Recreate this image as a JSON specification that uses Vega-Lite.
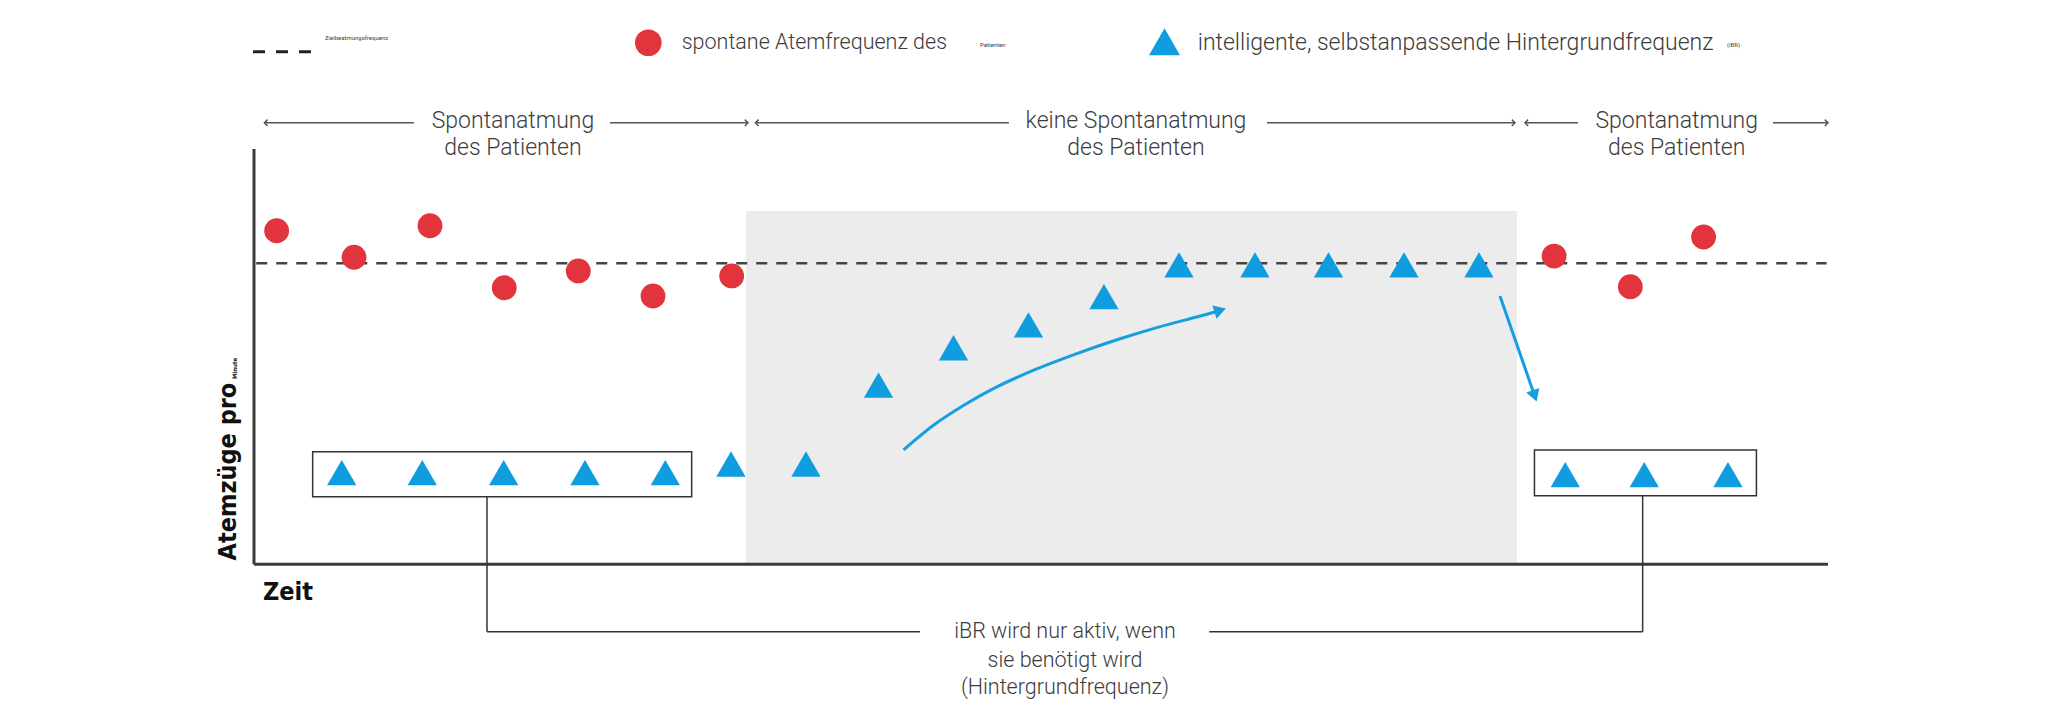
{
  "$schema": "https://vega.github.io/schema/vega-lite/v6.json",
  "width": 2048,
  "height": 723,
  "autosize": {"type": "fit", "contains": "padding"},
  "padding": 0,
  "background": "white",
  "view": {"stroke": null},
  "datasets": {
    "shade": [{"t": 6.517, "t2": 16.728, "v": 17.6, "v2": 0}],
    "target": [{"t": 0.03, "t2": 20.83, "v": 15, "v2": 15}],
    "axes": [
      {"t": 0, "t2": 0, "v": 20.7, "v2": 0},
      {"t": 0, "t2": 20.848, "v": 0, "v2": 0}
    ],
    "boxes": [
      {"t": 0.777, "t2": 5.797, "v": 5.61, "v2": 3.37},
      {"t": 16.96, "t2": 19.9, "v": 5.7, "v2": 3.42}
    ],
    "connectors": [
      {"t": 3.086, "t2": 3.086, "v": 3.37, "v2": -3.36},
      {"t": 3.086, "t2": 8.821, "v": -3.36, "v2": -3.36},
      {"t": 12.653, "t2": 18.393, "v": -3.36, "v2": -3.36},
      {"t": 18.393, "t2": 18.393, "v": 3.42, "v2": -3.36}
    ],
    "phaseLines": [
      {"t": 0.138, "t2": 2.117, "v": 22.0, "v2": 22.0},
      {"t": 4.715, "t2": 6.543, "v": 22.0, "v2": 22.0},
      {"t": 6.642, "t2": 9.999, "v": 22.0, "v2": 22.0},
      {"t": 13.417, "t2": 16.702, "v": 22.0, "v2": 22.0},
      {"t": 16.834, "t2": 17.536, "v": 22.0, "v2": 22.0},
      {"t": 20.119, "t2": 20.848, "v": 22.0, "v2": 22.0}
    ],
    "phaseHeads": [
      {"t": 0.138, "v": 22.0, "side": "left"},
      {"t": 6.543, "v": 22.0, "side": "right"},
      {"t": 6.642, "v": 22.0, "side": "left"},
      {"t": 16.702, "v": 22.0, "side": "right"},
      {"t": 16.834, "v": 22.0, "side": "left"},
      {"t": 20.848, "v": 22.0, "side": "right"}
    ],
    "curve": [
      {"t": 8.603, "v": 5.7},
      {"t": 9.008, "v": 6.95},
      {"t": 9.413, "v": 7.95},
      {"t": 9.819, "v": 8.8},
      {"t": 10.359, "v": 9.72},
      {"t": 10.899, "v": 10.5},
      {"t": 11.441, "v": 11.2},
      {"t": 11.981, "v": 11.82},
      {"t": 12.522, "v": 12.36},
      {"t": 12.78, "v": 12.62}
    ],
    "drop": [{"t": 16.503, "t2": 16.963, "v": 13.37, "v2": 8.39}],
    "headCurve": [{"t": 12.797, "v": 12.66}],
    "headDrop": [{"t": 16.963, "v": 8.39}],
    "spontaneous": [
      {"t": 0.3, "v": 16.62},
      {"t": 1.325, "v": 15.3},
      {"t": 2.331, "v": 16.87},
      {"t": 3.315, "v": 13.78},
      {"t": 4.295, "v": 14.62},
      {"t": 5.285, "v": 13.37},
      {"t": 6.327, "v": 14.37},
      {"t": 17.22, "v": 15.36},
      {"t": 18.23, "v": 13.83},
      {"t": 19.2, "v": 16.31}
    ],
    "ibr": [
      {"t": 1.162, "v": 4.57},
      {"t": 2.229, "v": 4.57},
      {"t": 3.307, "v": 4.57},
      {"t": 4.384, "v": 4.57},
      {"t": 5.448, "v": 4.57},
      {"t": 6.318, "v": 5.0},
      {"t": 7.311, "v": 5.0},
      {"t": 8.272, "v": 8.93},
      {"t": 9.265, "v": 10.79},
      {"t": 10.258, "v": 11.93},
      {"t": 11.258, "v": 13.34},
      {"t": 12.252, "v": 14.92},
      {"t": 13.258, "v": 14.92},
      {"t": 14.232, "v": 14.92},
      {"t": 15.232, "v": 14.92},
      {"t": 16.225, "v": 14.92},
      {"t": 17.368, "v": 4.47},
      {"t": 18.414, "v": 4.47},
      {"t": 19.523, "v": 4.47}
    ],
    "phaseText": [
      {"t": 3.43, "v": 22.1, "label": "Spontanatmung"},
      {"t": 3.43, "v": 20.73, "label": "des Patienten"},
      {"t": 11.682, "v": 22.1, "label": "keine Spontanatmung"},
      {"t": 11.682, "v": 20.73, "label": "des Patienten"},
      {"t": 18.844, "v": 22.1, "label": "Spontanatmung"},
      {"t": 18.844, "v": 20.73, "label": "des Patienten"}
    ],
    "noteText": [
      {"t": 10.742, "v": -3.37, "label": "iBR wird nur aktiv, wenn"},
      {"t": 10.742, "v": -4.8, "label": "sie benötigt wird"},
      {"t": 10.742, "v": -6.16, "label": "(Hintergrundfrequenz)"}
    ],
    "legendText1": [
      {"t": 5.665, "v": 25.98, "label": "spontane Atemfrequenz des"}
    ],
    "legendText2": [
      {"t": 12.5, "v": 25.98, "label": "intelligente, selbstanpassende Hintergrundfrequenz"}
    ],
    "legendTiny": [
      {"t": 0.94, "v": 26.23, "label": "Zielbeatmungsfrequenz"},
      {"t": 9.616, "v": 25.87, "label": "Patienten"},
      {"t": 19.51, "v": 25.87, "label": "(iBR)"}
    ],
    "legendDash": [{"t": -0.013, "t2": 0.768, "v": 25.54, "v2": 25.54}],
    "legendCircle": [{"t": 5.223, "v": 25.99}],
    "legendTriangle": [{"t": 12.06, "v": 26.04}],
    "yTitle": [{"t": -0.34, "v": 4.62, "label": "Atemzüge pro"}],
    "yTitleTiny": [{"t": -0.245, "v": 9.76, "label": "Minute"}],
    "xTitle": [{"t": 0.119, "v": -1.365, "label": "Zeit"}]
  },
  "encoding": {
    "x": {"field": "t", "type": "quantitative", "scale": {"domain": [-3.3642, 23.762], "nice": false, "zero": false}, "axis": null},
    "y": {"field": "v", "type": "quantitative", "scale": {"domain": [-7.909, 28.12], "nice": false, "zero": false}, "axis": null}
  },
  "layer": [
    {"data": {"name": "shade"}, "mark": {"type": "rect", "fill": "#ececec"},
     "encoding": {"x2": {"field": "t2"}, "y2": {"field": "v2"}}},
    {"data": {"name": "target"}, "mark": {"type": "rule", "stroke": "#444444", "strokeWidth": 2.5, "strokeDash": [11, 9]},
     "encoding": {"x2": {"field": "t2"}, "y2": {"field": "v2"}}},
    {"data": {"name": "axes"}, "mark": {"type": "rule", "stroke": "#3a3a3a", "strokeWidth": 3},
     "encoding": {"x2": {"field": "t2"}, "y2": {"field": "v2"}}},
    {"data": {"name": "boxes"}, "mark": {"type": "rect", "fill": null, "stroke": "#333333", "strokeWidth": 1.5},
     "encoding": {"x2": {"field": "t2"}, "y2": {"field": "v2"}}},
    {"data": {"name": "connectors"}, "mark": {"type": "rule", "stroke": "#333333", "strokeWidth": 1.5},
     "encoding": {"x2": {"field": "t2"}, "y2": {"field": "v2"}}},
    {"data": {"name": "phaseLines"}, "mark": {"type": "rule", "stroke": "#555555", "strokeWidth": 1.5},
     "encoding": {"x2": {"field": "t2"}, "y2": {"field": "v2"}}},
    {"data": {"name": "phaseHeads"}, "transform": [{"filter": "datum.side === 'right'"}],
     "mark": {"type": "point", "shape": "M-1,-1L0,0L-1,1", "filled": false, "stroke": "#555555", "strokeWidth": 1.5, "size": 40, "opacity": 1},
     "encoding": {}},
    {"data": {"name": "phaseHeads"}, "transform": [{"filter": "datum.side === 'left'"}],
     "mark": {"type": "point", "shape": "M-1,-1L0,0L-1,1", "filled": false, "stroke": "#555555", "strokeWidth": 1.5, "size": 40, "opacity": 1, "angle": 180},
     "encoding": {}},
    {"data": {"name": "curve"}, "mark": {"type": "line", "stroke": "#159ee0", "strokeWidth": 3, "interpolate": "monotone"},
     "encoding": {}},
    {"data": {"name": "drop"}, "mark": {"type": "rule", "stroke": "#159ee0", "strokeWidth": 3},
     "encoding": {"x2": {"field": "t2"}, "y2": {"field": "v2"}}},
    {"data": {"name": "headCurve"}, "mark": {"type": "point", "shape": "triangle-right", "filled": true, "fill": "#159ee0", "size": 190, "opacity": 1, "angle": 342},
     "encoding": {}},
    {"data": {"name": "headDrop"}, "mark": {"type": "point", "shape": "triangle-right", "filled": true, "fill": "#159ee0", "size": 190, "opacity": 1, "angle": 71},
     "encoding": {}},
    {"data": {"name": "spontaneous"}, "mark": {"type": "circle", "fill": "#e1343c", "size": 616, "opacity": 1},
     "encoding": {}},
    {"data": {"name": "ibr"}, "mark": {"type": "point", "shape": "triangle-up", "filled": true, "fill": "#0f9de0", "size": 860, "opacity": 1},
     "encoding": {}},
    {"data": {"name": "phaseText"}, "mark": {"type": "text", "font": "Roboto", "fontWeight": 300, "fontSize": 23, "fill": "#3c3c3c", "align": "center", "baseline": "middle"},
     "encoding": {"text": {"field": "label"}}},
    {"data": {"name": "noteText"}, "mark": {"type": "text", "font": "Roboto", "fontWeight": 300, "fontSize": 21.5, "fill": "#3c3c3c", "align": "center", "baseline": "middle"},
     "encoding": {"text": {"field": "label"}}},
    {"data": {"name": "legendText1"}, "mark": {"type": "text", "font": "Roboto", "fontWeight": 300, "fontSize": 21.5, "fill": "#3c3c3c", "align": "left", "baseline": "middle"},
     "encoding": {"text": {"field": "label"}}},
    {"data": {"name": "legendText2"}, "mark": {"type": "text", "font": "Roboto", "fontWeight": 300, "fontSize": 23, "fill": "#3c3c3c", "align": "left", "baseline": "middle"},
     "encoding": {"text": {"field": "label"}}},
    {"data": {"name": "legendTiny"}, "mark": {"type": "text", "font": "Roboto", "fontSize": 6, "fill": "#3c3c3c", "align": "left", "baseline": "middle"},
     "encoding": {"text": {"field": "label"}}},
    {"data": {"name": "legendDash"}, "mark": {"type": "rule", "stroke": "#222222", "strokeWidth": 3, "strokeDash": [12, 11]},
     "encoding": {"x2": {"field": "t2"}, "y2": {"field": "v2"}}},
    {"data": {"name": "legendCircle"}, "mark": {"type": "circle", "fill": "#e1343c", "size": 707, "opacity": 1},
     "encoding": {}},
    {"data": {"name": "legendTriangle"}, "mark": {"type": "point", "shape": "triangle-up", "filled": true, "fill": "#0f9de0", "size": 960, "opacity": 1},
     "encoding": {}},
    {"data": {"name": "yTitle"}, "mark": {"type": "text", "font": "'DejaVu Sans Condensed', 'Liberation Sans', sans-serif", "fontWeight": "bold", "fontSize": 25, "fill": "#111111", "align": "center", "baseline": "middle", "angle": 270},
     "encoding": {"text": {"field": "label"}}},
    {"data": {"name": "yTitleTiny"}, "mark": {"type": "text", "font": "'DejaVu Sans Condensed', 'Liberation Sans', sans-serif", "fontWeight": "bold", "fontSize": 6, "fill": "#111111", "align": "center", "baseline": "middle", "angle": 270},
     "encoding": {"text": {"field": "label"}}},
    {"data": {"name": "xTitle"}, "mark": {"type": "text", "font": "'DejaVu Sans Condensed', 'Liberation Sans', sans-serif", "fontWeight": "bold", "fontSize": 25, "fill": "#111111", "align": "left", "baseline": "middle"},
     "encoding": {"text": {"field": "label"}}}
  ]
}
